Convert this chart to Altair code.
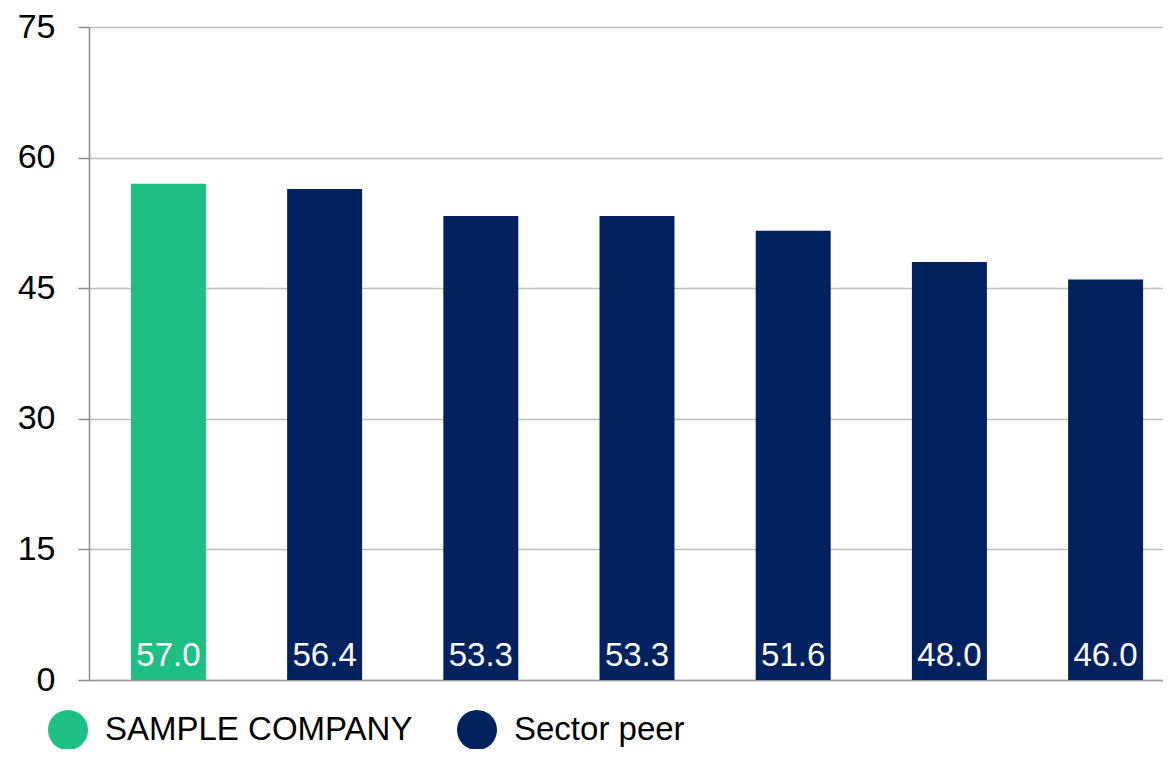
import altair as alt
import pandas as pd

entities = ["SAMPLE COMPANY", "Peer 1", "Peer 2", "Peer 3", "Peer 4", "Peer 5", "Peer 6"]
groups = ["SAMPLE COMPANY", "Sector peer", "Sector peer", "Sector peer",
          "Sector peer", "Sector peer", "Sector peer"]
scores = [57.0, 56.4, 53.3, 53.3, 51.6, 48.0, 46.0]
y_ticks = [0, 15, 30, 45, 60, 75]
legend_labels = ["SAMPLE COMPANY", "Sector peer"]
colors = ["#1DBF85", "#02215F"]

df = pd.DataFrame({"entity": entities, "group": groups, "score": scores})

FONT = "Liberation Sans"

x_enc = alt.X(
    "entity:N", sort=None, title=None,
    scale=alt.Scale(paddingInner=0.52, paddingOuter=0.198, align=0.678),
    axis=alt.Axis(labels=False, ticks=False, domain=True, domainColor="#9a9a9a",
                  domainWidth=1.5, grid=False),
)

y_enc = alt.Y(
    "score:Q", title=None,
    scale=alt.Scale(domain=[0, 75], nice=False),
    axis=alt.Axis(values=y_ticks, tickSize=11, tickColor="#8c8c8c", tickWidth=1.5,
                  domainColor="#8c8c8c", domainWidth=1.5,
                  gridColor="#bdbdbd", gridWidth=1.5,
                  labelFont=FONT, labelFontSize=34, labelColor="#000000",
                  labelPadding=23),
)

bars = alt.Chart(df).mark_bar().encode(
    x=x_enc,
    y=y_enc,
    color=alt.Color(
        "group:N",
        scale=alt.Scale(domain=legend_labels, range=colors),
        legend=alt.Legend(
            title=None, orient="none", legendX=-41, legendY=683,
            direction="horizontal", columns=2,
            symbolType="circle", symbolSize=1600, symbolStrokeWidth=0,
            symbolOpacity=1,
            labelFont=FONT, labelFontSize=33, labelColor="#000000",
            labelLimit=600, labelOffset=17, columnPadding=44, padding=0,
        ),
    ),
)

labels = alt.Chart(df).mark_text(
    color="white", font=FONT, fontSize=33, baseline="alphabetic", dy=-14.5
).encode(
    x=alt.X("entity:N", sort=None),
    y=alt.datum(0),
    text=alt.Text("score:Q", format=".1f"),
)

chart = (
    alt.layer(bars, labels)
    .properties(
        width=1074, height=653,
        autosize=alt.AutoSizeParams(type="none"),
        padding={"left": 81, "top": 19, "right": 0, "bottom": 69},
        background="white",
    )
    .configure_view(stroke=None)
)

chart.save("out.html", embed_options={"renderer": "svg", "actions": False})
